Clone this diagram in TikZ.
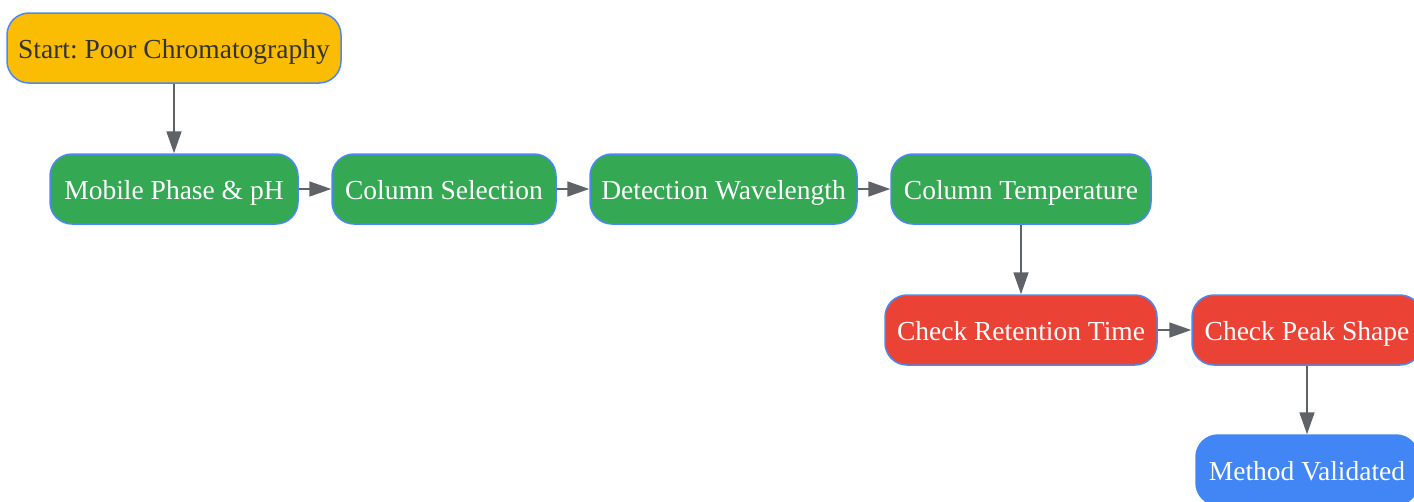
\documentclass[tikz,border=0pt]{standalone}
\usepackage{fontspec}
\setmainfont{Liberation Serif}
\usetikzlibrary{positioning,arrows.meta}

\definecolor{startyellow}{HTML}{FBBC04}
\definecolor{stepgreen}{HTML}{34A853}
\definecolor{checkred}{HTML}{EA4335}
\definecolor{doneblue}{HTML}{4285F4}
\definecolor{rimblue}{HTML}{4A89F3}
\definecolor{arrowgray}{HTML}{5F6368}
\definecolor{darktext}{HTML}{333333}

\tikzset{
    flowbox/.style={draw=rimblue, line width=1.5pt, rounded corners=22pt,
      minimum height=70pt, inner xsep=0pt, text height=20pt, text depth=0pt,
      font=\fontsize{27.5}{31}\selectfont\frenchspacing, text=white},
    startbox/.style={flowbox, fill=startyellow, text=darktext},
    greenbox/.style={flowbox, fill=stepgreen},
    redbox/.style={flowbox, fill=checkred},
    endbox/.style={flowbox, fill=doneblue, draw=doneblue},
    flowarrow/.style={draw=arrowgray, line width=1.8pt,
      -{Triangle[length=22pt, width=15pt]}},
}

\begin{document}
\begin{tikzpicture}
    \useasboundingbox (0,0) rectangle (1414pt,-501pt);

    \node[startbox, minimum width=334pt] (Start) at (174pt,-48pt) {Start: Poor Chromatography};
    \node[greenbox, minimum width=248pt, below={69.5pt of Start}] (MobilePhase) {Mobile Phase \& pH};
    \node[greenbox, minimum width=224pt, right={32.5pt of MobilePhase}] (ColumnSel) {Column Selection};
    \node[greenbox, minimum width=267pt, right={32.5pt of ColumnSel}] (Wavelength) {Detection Wavelength};
    \node[greenbox, minimum width=260pt, right={32.5pt of Wavelength}] (ColumnTemp) {Column Temperature};
    \node[redbox, minimum width=272pt, below={69.5pt of ColumnTemp}] (Retention) {Check Retention Time};
    \node[redbox, minimum width=230pt, right={33.5pt of Retention}] (PeakShape) {Check Peak Shape};
    \node[endbox, minimum width=222pt, below={68.5pt of PeakShape}] (Validated) {Method Validated};

    \draw[flowarrow] (Start.south) -- (MobilePhase.north);
    \draw[flowarrow] (MobilePhase.east) -- (ColumnSel.west);
    \draw[flowarrow] (ColumnSel.east) -- (Wavelength.west);
    \draw[flowarrow] (Wavelength.east) -- (ColumnTemp.west);
    \draw[flowarrow] (ColumnTemp.south) -- (Retention.north);
    \draw[flowarrow] (Retention.east) -- (PeakShape.west);
    \draw[flowarrow] (PeakShape.south) -- (Validated.north);
\end{tikzpicture}
\end{document}
